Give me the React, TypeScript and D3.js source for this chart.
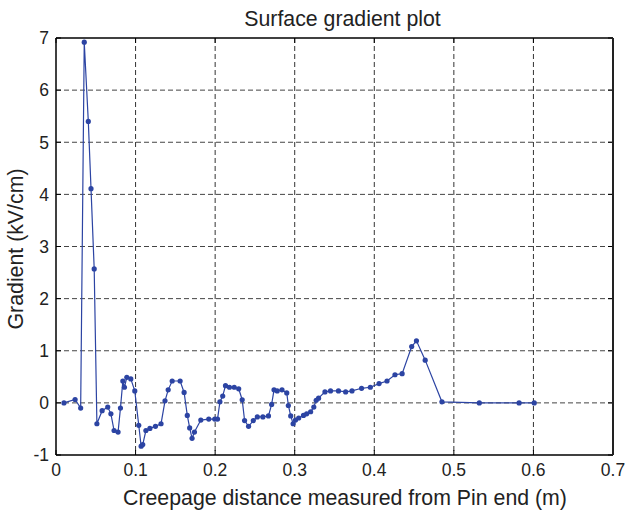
import React from "react";
import * as d3 from "d3";

const xValues = [0.010, 0.024, 0.031, 0.0355, 0.0406, 0.044, 0.048, 0.0514, 0.058, 0.065, 0.069, 0.073, 0.078, 0.081, 0.084, 0.086, 0.089, 0.094, 0.099, 0.104, 0.107, 0.109, 0.113, 0.118, 0.125, 0.132, 0.137, 0.141, 0.146, 0.156, 0.161, 0.165, 0.168, 0.171, 0.174, 0.182, 0.192, 0.1995, 0.203, 0.206, 0.2095, 0.213, 0.218, 0.224, 0.2296, 0.234, 0.237, 0.242, 0.248, 0.253, 0.260, 0.267, 0.271, 0.274, 0.278, 0.284, 0.290, 0.292, 0.295, 0.298, 0.301, 0.305, 0.311, 0.315, 0.320, 0.324, 0.327, 0.330, 0.338, 0.345, 0.355, 0.364, 0.372, 0.384, 0.395, 0.406, 0.416, 0.426, 0.435, 0.447, 0.453, 0.464, 0.485, 0.532, 0.582, 0.601];
const gradientValues = [0, 0.065, -0.10, 6.92, 5.40, 4.11, 2.57, -0.40, -0.15, -0.08, -0.21, -0.53, -0.56, -0.10, 0.42, 0.30, 0.49, 0.46, 0.23, -0.43, -0.83, -0.80, -0.53, -0.49, -0.45, -0.40, 0.04, 0.25, 0.42, 0.42, 0.20, -0.24, -0.48, -0.68, -0.56, -0.33, -0.31, -0.31, -0.31, 0.02, 0.13, 0.33, 0.30, 0.30, 0.27, 0.06, -0.34, -0.45, -0.34, -0.27, -0.27, -0.25, -0.03, 0.25, 0.23, 0.25, 0.19, -0.05, -0.25, -0.40, -0.33, -0.29, -0.24, -0.21, -0.17, -0.08, 0.05, 0.09, 0.21, 0.23, 0.23, 0.21, 0.23, 0.28, 0.30, 0.37, 0.42, 0.54, 0.56, 1.08, 1.19, 0.82, 0.02, 0.0, 0.0, 0.0];
const xTicks = [0, 0.1, 0.2, 0.3, 0.4, 0.5, 0.6, 0.7];
const yTicks = [-1, 0, 1, 2, 3, 4, 5, 6, 7];

const title = "Surface gradient plot";
const xLabel = "Creepage distance measured from Pin end (m)";
const yLabel = "Gradient (kV/cm)";

export default function App() {
  const W = 626, H = 514;
  const m = { left: 56, right: 613, top: 38, bottom: 455 };
  const x = d3.scaleLinear().domain([0, 0.7]).range([m.left, m.right]);
  const y = d3.scaleLinear().domain([-1, 7]).range([m.bottom, m.top]);
  const data = xValues.map((v, i) => [v, gradientValues[i]] as [number, number]);
  const line = d3.line<[number, number]>().x(d => x(d[0])).y(d => y(d[1]));
  const font = "Liberation Sans, Arial, Helvetica, sans-serif";
  const color = "#2c44a3";
  const tickLen = 5;
  const tickFont = 17.5;
  const labelFont = 21.3;

  return (
    <svg width={W} height={H} style={{ position: "absolute", left: 0, top: 0, background: "#fff" }} fontFamily={font}>
      <rect x={0} y={0} width={W} height={H} fill="#fff" />
      {/* grid */}
      {xTicks.filter(t => t > 0 && t < 0.7).map(t => (
        <line key={"gx" + t} x1={x(t)} x2={x(t)} y1={m.top} y2={m.bottom} stroke="#333" strokeWidth={1} strokeDasharray="5,3" />
      ))}
      {yTicks.filter(t => t > -1 && t < 7).map(t => (
        <line key={"gy" + t} x1={m.left} x2={m.right} y1={y(t)} y2={y(t)} stroke="#444" strokeWidth={1} strokeDasharray="5,3" />
      ))}
      {/* ticks */}
      {xTicks.map(t => (
        <g key={"tx" + t}>
          <line x1={x(t)} x2={x(t)} y1={m.bottom} y2={m.bottom - tickLen} stroke="#000" />
          <line x1={x(t)} x2={x(t)} y1={m.top} y2={m.top + tickLen} stroke="#000" />
          <text x={x(t)} y={476} fontSize={tickFont} textAnchor="middle" fill="#222">{String(t)}</text>
        </g>
      ))}
      {yTicks.map(t => (
        <g key={"ty" + t}>
          <line x1={m.left} x2={m.left + tickLen} y1={y(t)} y2={y(t)} stroke="#000" />
          <line x1={m.right} x2={m.right - tickLen} y1={y(t)} y2={y(t)} stroke="#000" />
          <text x={49} y={y(t) + 6.3} fontSize={tickFont} textAnchor="end" fill="#222">{String(t)}</text>
        </g>
      ))}
      {/* frame */}
      <line x1={m.left} x2={m.right} y1={m.top} y2={m.top} stroke="#000" strokeWidth={1.5} />
      <line x1={m.left} x2={m.right} y1={m.bottom} y2={m.bottom} stroke="#000" strokeWidth={1.5} />
      <line x1={m.left} x2={m.left} y1={m.top} y2={m.bottom} stroke="#000" strokeWidth={1.5} />
      <line x1={m.right} x2={m.right} y1={m.top} y2={m.bottom} stroke="#222" strokeWidth={2} />
      {/* data */}
      <path d={line(data) ?? ""} fill="none" stroke={color} strokeWidth={1.2} />
      {data.map((d, i) => (
        <circle key={i} cx={x(d[0])} cy={y(d[1])} r={2.6} fill={color} />
      ))}
      {/* labels */}
      <text x={342.5} y={26} fontSize={labelFont} textAnchor="middle" fill="#222">{title}</text>
      <text x={345} y={505} fontSize={labelFont} textAnchor="middle" fill="#222">{xLabel}</text>
      <text transform={`translate(23,249) rotate(-90)`} fontSize={labelFont} textAnchor="middle" fill="#222">{yLabel}</text>
    </svg>
  );
}
